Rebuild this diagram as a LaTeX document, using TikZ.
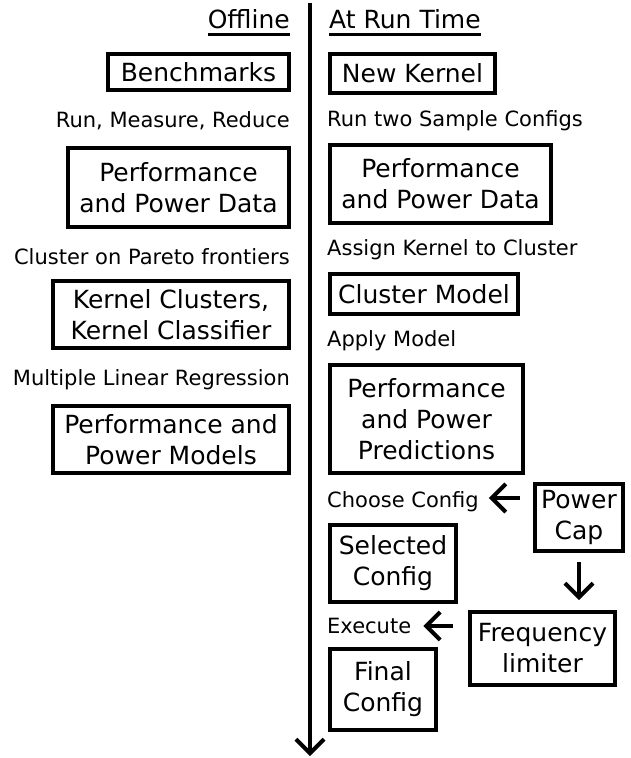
\documentclass[tikz,border=0pt]{standalone}
\usepackage{fontspec}
\setmainfont{DejaVu Sans}
\usetikzlibrary{arrows.meta}
\tikzset{
  box/.style={draw, line width=4pt, inner sep=0pt, align=center, font=\fontsize{25}{31}\selectfont},
  lbl/.style={inner sep=0pt, font=\fontsize{21}{25}\selectfont},
  hdr/.style={inner sep=0pt, font=\fontsize{25}{30}\selectfont},
  ul/.style={line width=3pt},
  arr/.style={line width=4pt, -{Straight Barb[length=14pt,width=28pt]}},
}
\begin{document}
\begin{tikzpicture}[x=1pt, y=-1pt]
\useasboundingbox (0,0) rectangle (631,758);
% headers
\node[hdr, anchor=base east] (off) at (290,28) {Offline};
\node[hdr, anchor=base west] (rt) at (329,28) {At Run Time};
\draw[ul] ([yshift=-6pt]off.base west) -- ([yshift=-6pt]off.base east);
\draw[ul] ([yshift=-6pt]rt.base west) -- ([yshift=-6pt]rt.base east);
% timeline
\coordinate (vtop) at (310,3);
\coordinate (vbot) at (310,756);
\draw[arr] (vtop) -- (vbot);
% offline column
\node[box, minimum width=181pt, minimum height=36pt] (bench) at (198.5,72) {Benchmarks};
\node[lbl, anchor=base east] (l1) at (290,127) {Run, Measure, Reduce};
\node[box, minimum width=221pt, minimum height=79pt] (ppd1) at (178.5,187.5) {Performance\\and Power Data};
\node[lbl, anchor=base east] (l2) at (290,264) {Cluster on Pareto frontiers};
\node[box, minimum width=236pt, minimum height=67pt] (kc) at (171,314.5) {Kernel Clusters,\\Kernel Classifier};
\node[lbl, anchor=base east] (l3) at (290,385) {Multiple Linear Regression};
\node[box, minimum width=236pt, minimum height=67pt] (ppm) at (171,439.5) {Performance and\\Power Models};
% run-time column
\node[box, minimum width=165pt, minimum height=39pt] (nk) at (412.5,73.5) {New Kernel};
\node[lbl, anchor=base west] (r1) at (327,126) {Run two Sample Configs};
\node[box, minimum width=221pt, minimum height=78pt] (ppd2) at (440.5,184) {Performance\\and Power Data};
\node[lbl, anchor=base west] (r2) at (327,255) {Assign Kernel to Cluster};
\node[box, minimum width=188pt, minimum height=40pt] (cm) at (424,294) {Cluster Model};
\node[lbl, anchor=base west] (r3) at (327,346) {Apply Model};
\node[box, minimum width=193pt, minimum height=108pt] (pred) at (426.5,419) {Performance\\and Power\\Predictions};
\node[lbl, anchor=base west] (choose) at (327,507) {Choose Config};
\node[box, minimum width=88pt, minimum height=67pt] (pc) at (579,517.5) {Power\\Cap};
\node[box, minimum width=126pt, minimum height=77pt] (sel) at (393,563.5) {Selected\\Config};
\node[lbl, anchor=base west] (exec) at (327,633) {Execute};
\node[box, minimum width=145pt, minimum height=73pt] (fl) at (542.5,648.5) {Frequency\\limiter};
\node[box, minimum width=106pt, minimum height=81pt] (fin) at (383,689.5) {Final\\Config};
% arrows
\coordinate (ca) at ([yshift=9pt]choose.base east);
\coordinate (ea) at ([yshift=7pt]exec.base east);
\draw[arr, shorten <=13pt, shorten >=10pt] (pc.west |- ca) -- (ca);
\draw[arr, shorten <=9pt, shorten >=10pt] (pc.south) -- (pc.south |- fl.north);
\draw[arr, shorten <=15pt, shorten >=12pt] (fl.west |- ea) -- (ea);
\end{tikzpicture}
\end{document}
